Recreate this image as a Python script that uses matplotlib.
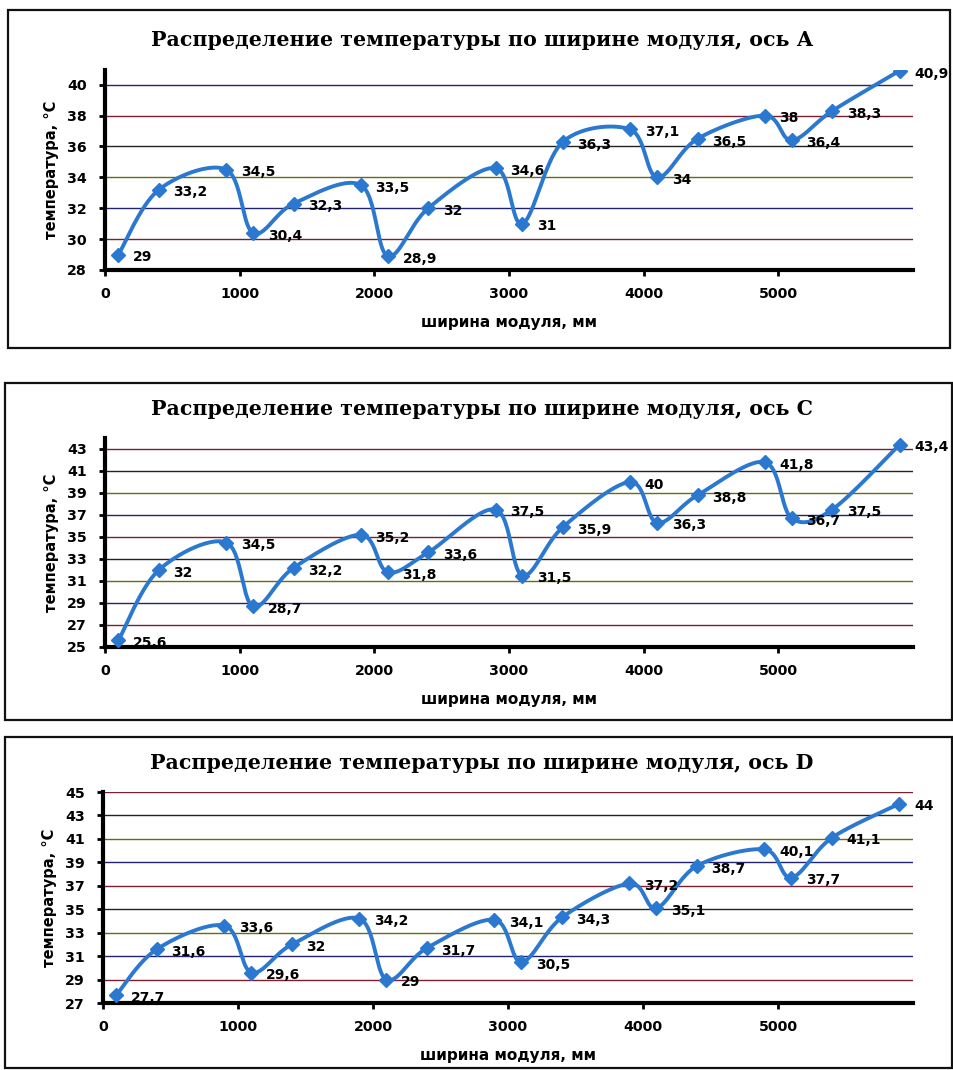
import numpy as np
import matplotlib
matplotlib.use("Agg")
import matplotlib.pyplot as plt
from matplotlib.patches import Rectangle

# ширина модуля, мм (общая для трёх осей)
x_mm = [100, 400, 900, 1100, 1400, 1900, 2100, 2400, 2900,
        3100, 3400, 3900, 4100, 4400, 4900, 5100, 5400, 5900]

temp_A = [29, 33.2, 34.5, 30.4, 32.3, 33.5, 28.9, 32, 34.6,
          31, 36.3, 37.1, 34, 36.5, 38, 36.4, 38.3, 40.9]
temp_C = [25.6, 32, 34.5, 28.7, 32.2, 35.2, 31.8, 33.6, 37.5,
          31.5, 35.9, 40, 36.3, 38.8, 41.8, 36.7, 37.5, 43.4]
temp_D = [27.7, 31.6, 33.6, 29.6, 32, 34.2, 29, 31.7, 34.1,
          30.5, 34.3, 37.2, 35.1, 38.7, 40.1, 37.7, 41.1, 44]

titles = ["Распределение температуры по ширине модуля, ось А",
          "Распределение температуры по ширине модуля, ось С",
          "Распределение температуры по ширине модуля, ось D"]
yticks_A = list(range(28, 41, 2))
yticks_C = list(range(25, 44, 2))
yticks_D = list(range(27, 46, 2))
xticks = [0, 1000, 2000, 3000, 4000, 5000]

W, H = 954, 1070
fig = plt.figure(figsize=(W / 100, H / 100), dpi=100)
fig.patch.set_facecolor("white")

blue = "#2b78d0"
grid_colors = ["#7a2030", "#22226e", "#6a6a10", "#222222"]
sans = "DejaVu Sans"


def px(l, t, r, b):
    # pixel box -> figure fraction [left, bottom, width, height]
    return [l / W, 1 - b / H, (r - l) / W, (b - t) / H]


def smooth(xs, ys, n=30):
    # сглаженная линия как в Excel (кривые Безье через точки)
    xs = np.asarray(xs, float)
    ys = np.asarray(ys, float)
    P = np.column_stack([xs, ys])
    out = []
    t = np.linspace(0, 1, n)[:, None]
    for i in range(len(P) - 1):
        p0 = P[i - 1] if i > 0 else P[i]
        p3 = P[i + 2] if i + 2 < len(P) else P[i + 1]
        c1 = P[i] + (P[i + 1] - p0) / 6
        c2 = P[i + 1] - (p3 - P[i]) / 6
        seg = ((1 - t) ** 3) * P[i] + 3 * ((1 - t) ** 2) * t * c1 \
            + 3 * (1 - t) * t ** 2 * c2 + t ** 3 * P[i + 1]
        out.append(seg)
    out = np.vstack(out)
    return out[:, 0], out[:, 1]


panels = [
    (temp_A, yticks_A, (28, 40.95), px(105, 70, 913, 270), (8, 10, 950, 348), 40),
    (temp_C, yticks_C, (25, 44), px(105, 438, 913, 647), (5, 383, 952, 720), 409),
    (temp_D, yticks_D, (27, 45), px(103, 792, 913, 1003), (5, 737, 952, 1068), 763),
]

for (temps, yt, ylim, rect, box, ty), title in zip(panels, titles):
    l, t, r, b = box
    fig.patches.append(Rectangle((l / W, 1 - b / H), (r - l) / W, (b - t) / H,
                                 transform=fig.transFigure, fill=False,
                                 edgecolor="#111111", lw=1.6))
    fig.text(482 / W, 1 - ty / H, title, ha="center", va="center",
             fontsize=14.8, fontweight="bold", family="DejaVu Serif")

    ax = fig.add_axes(rect)
    for k, v in enumerate(yt[1:]):
        ax.axhline(v, color=grid_colors[k % len(grid_colors)], lw=1.0, zorder=1)

    sx, sy = smooth(x_mm, temps)
    ax.plot(sx, sy, color=blue, lw=2.8, zorder=3)
    ax.plot(x_mm, temps, "D", color=blue, ms=7.5, zorder=4)
    for xv, yv in zip(x_mm, temps):
        ax.annotate(f"{yv:g}".replace(".", ","), (xv, yv), xytext=(10.5, -2),
                    textcoords="offset points", ha="left", va="center",
                    fontsize=10, fontweight="bold", family=sans, zorder=5)

    ax.set_xlim(0, 6000)
    ax.set_ylim(*ylim)
    ax.set_xticks(xticks)
    ax.set_yticks(yt)
    ax.tick_params(direction="out", length=4, width=2, labelsize=10.2)
    ax.tick_params(axis="x", pad=8)
    ax.tick_params(axis="y", pad=9)
    for lab in ax.get_xticklabels() + ax.get_yticklabels():
        lab.set_fontweight("bold")
        lab.set_family(sans)
    for s in ["top", "right"]:
        ax.spines[s].set_visible(False)
    for s in ["left", "bottom"]:
        ax.spines[s].set_linewidth(3)
    ax.set_xlabel("ширина модуля, мм", fontsize=11, fontweight="bold",
                  family=sans, labelpad=10)
    ax.set_ylabel("температура, °С", fontsize=10.5, fontweight="bold",
                  family=sans, labelpad=6)
    ax.set_facecolor("none")

fig.savefig("out.png", dpi=100, facecolor="white")
